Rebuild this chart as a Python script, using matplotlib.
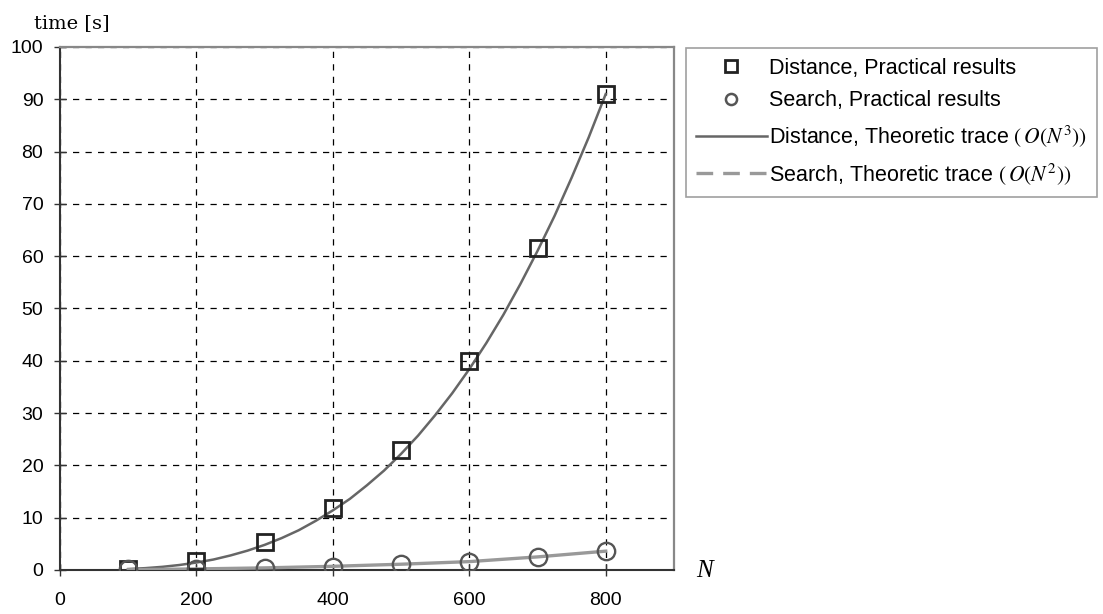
import numpy as np
import matplotlib.pyplot as plt
from matplotlib.lines import Line2D

plt.rcParams['font.family'] = 'Liberation Sans'
plt.rcParams['mathtext.fontset'] = 'stix'

# measured points
n_pts = [100, 200, 300, 400, 500, 600, 700, 800]
dist_pts = [0.2, 1.7, 5.3, 11.9, 23.0, 40.0, 61.5, 91.0]
search_pts = [0.1, 0.1, 0.3, 0.6, 1.1, 1.5, 2.5, 3.6]

# theoretic traces
n_trace = [100, 125, 150, 175, 200, 225, 250, 275, 300, 325, 350, 375, 400, 425, 450,
           475, 500, 525, 550, 575, 600, 625, 650, 675, 700, 725, 750, 775, 800]
dist_trace = [0.18, 0.35, 0.6, 0.95, 1.42, 2.0, 2.78, 3.7, 4.8, 6.1, 7.6, 9.4, 11.4, 13.6,
              16.2, 19.0, 22.2, 25.7, 29.6, 33.8, 38.4, 43.4, 48.8, 54.7, 61.0, 67.7,
              75.0, 82.7, 91.0]
n_trace2 = [100, 200, 300, 400, 500, 600, 700, 800]
search_trace = [0.05, 0.2, 0.4, 0.7, 1.1, 1.6, 2.5, 3.6]

xticks = [0, 200, 400, 600, 800]
yticks = list(range(0, 101, 10))

fig = plt.figure(figsize=(11.03, 6.14), dpi=100)
ax = fig.add_axes([0.0544, 0.0717, 0.5566, 0.8518])

ax.plot(n_trace, dist_trace, color='#666666', lw=1.8, zorder=3)
ax.plot(n_trace2, search_trace, color='#999999', lw=2.4, zorder=3)
ax.plot(n_pts, dist_pts, ls='none', marker='s', ms=11.5, mfc='none',
        mec='#222222', mew=2, zorder=4)
ax.plot(n_pts, search_pts, ls='none', marker='o', ms=12.5, mfc='none',
        mec='#555555', mew=1.7, zorder=5)

ax.set_xlim(0, 900)
ax.set_ylim(0, 100)
ax.set_xticks(xticks)
ax.set_yticks(yticks)
ax.tick_params(direction='inout', length=8, labelsize=14, width=1, color='#333333')
ax.tick_params(axis='x', pad=12)
ax.tick_params(axis='y', pad=8)
ax.grid(True, ls=(0, (5, 5)), color='black', lw=0.9)
ax.set_axisbelow(True)
for s in ['left', 'bottom']:
    ax.spines[s].set_color('#333333')
    ax.spines[s].set_linewidth(1.5)
for s in ['top', 'right']:
    ax.spines[s].set_color('#888888')
    ax.spines[s].set_linewidth(1.6)

fig.text(0.031, 0.955, 'time [s]', family='DejaVu Serif', fontsize=14)
fig.text(0.631, 0.061, 'N', family='Liberation Serif', style='italic', fontsize=18)

handles = [
    Line2D([], [], ls='none', marker='s', ms=8, mfc='none', mec='#222222', mew=2),
    Line2D([], [], ls='none', marker='o', ms=8, mfc='none', mec='#555555', mew=1.8),
    Line2D([], [], color='#666666', lw=1.8),
    Line2D([], [], color='#999999', lw=2.4, ls=(0, (5, 3))),
]
labels = [
    'Distance, Practical results',
    'Search, Practical results',
    'Distance, Theoretic trace $(\\,O(N^3))$',
    'Search, Theoretic trace $(\\,O(N^2))$',
]
leg = fig.legend(handles, labels, loc='upper left', bbox_to_anchor=(0.622, 0.922),
                 fontsize=15.5, frameon=True, fancybox=False, handlelength=3.3,
                 handletextpad=0.1, borderpad=0.45, labelspacing=0.55, borderaxespad=0)
leg.get_frame().set_edgecolor('#888888')
leg.get_frame().set_linewidth(1.2)

plt.savefig('out.png', dpi=100)
